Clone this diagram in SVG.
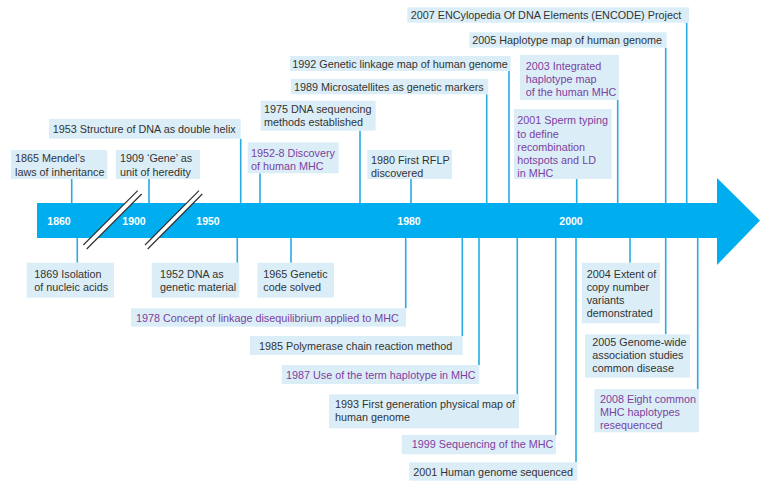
<svg xmlns="http://www.w3.org/2000/svg" width="760" height="483" viewBox="0 0 760 483">
<style>
.b{fill:#dbeef8}
.t{font-family:"Liberation Sans",Arial,sans-serif;font-size:10.8px;fill:#333}
.p{fill:#7b3f9e}
.c{stroke:#29abe2;stroke-width:1.6;fill:none}
.y{font-family:"Liberation Sans",Arial,sans-serif;font-size:10.5px;font-weight:bold;fill:#fff;text-anchor:middle}
</style>
<rect width="760" height="483" fill="#fff"/>
<g id="connectors" class="c">
<path d="M71.7 179V204M149 179V204M240.7 138.7V204M260 173.3V204M360 130.7V204M411 179V204M486.7 94.3V204M509 71V204M576.7 179V204M617.7 100V204M665.7 47.7V204M686.7 22.7V204"/>
<path d="M77.3 237V262.7M237.3 237V262.7M291 237V262.7M405.7 237V308.3M462.3 237V336M479 237V365M517.3 237V394.3M555.7 237V435M576 237V462.3M630 237V262.7M665.7 237V334.3M697.7 237V389"/>
</g>
<g id="timeline">
<path d="M37 203H717V178L760 220.5L717 265V238H37Z" fill="#00aeef"/>
<polygon points="83.3,245 137.7,190.7 141.7,194 86.7,249" fill="#fff"/>
<polygon points="145,245 199,190.7 202.3,194 147.7,249" fill="#fff"/>
<path d="M83.3 245L137.7 190.7M86.7 249L141.7 194M145 245L199 190.7M147.7 249L202.3 194" stroke="#333" stroke-width="1.2"/>
<text class="y" x="59" y="225">1860</text>
<text class="y" x="134" y="225">1900</text>
<text class="y" x="208" y="225">1950</text>
<text class="y" x="409" y="225">1980</text>
<text class="y" x="571" y="225">2000</text>
</g>
<g id="n1865"><rect class="b" x="11" y="150" width="96.3" height="29"/><text class="t" x="15" y="162.3">1865 Mendel’s</text><text class="t" x="15" y="175.7">laws of inheritance</text></g>
<g id="n1909"><rect class="b" x="115.7" y="150" width="84.3" height="29"/><text class="t" x="120" y="162.3">1909 ‘Gene’ as</text><text class="t" x="120" y="175.7">unit of heredity</text></g>
<g id="n1953"><rect class="b" x="49" y="119" width="191.7" height="19.7"/><text class="t" x="52.7" y="133.3">1953 Structure of DNA as double helix</text></g>
<g id="n1952-8"><rect class="b" x="247.7" y="142.3" width="91" height="31"/><text class="t p" x="251" y="157.3">1952-8 Discovery</text><text class="t p" x="251" y="169.7">of human MHC</text></g>
<g id="n1975"><rect class="b" x="260.7" y="100.7" width="115" height="30"/><text class="t" x="264" y="113.3">1975 DNA sequencing</text><text class="t" x="264" y="126.3">methods established</text></g>
<g id="n1980"><rect class="b" x="367.3" y="150" width="84.7" height="29"/><text class="t" x="371" y="164">1980 First RFLP</text><text class="t" x="371" y="176.7">discovered</text></g>
<g id="n1989"><rect class="b" x="291" y="79" width="197.3" height="15.3"/><text class="t" x="294" y="91.3">1989 Microsatellites as genetic markers</text></g>
<g id="n1992"><rect class="b" x="290" y="56" width="220.7" height="15"/><text class="t" x="292.3" y="68">1992 Genetic linkage map of human genome</text></g>
<g id="n2005-hapmap"><rect class="b" x="469.3" y="32.3" width="197.4" height="15.4"/><text class="t" x="472.3" y="44">2005 Haplotype map of human genome</text></g>
<g id="n2007"><rect class="b" x="407.3" y="7.3" width="281.7" height="15.4"/><text class="t" x="410.7" y="19">2007 ENCylopedia Of DNA Elements (ENCODE) Project</text></g>
<g id="n2003"><rect class="b" x="520" y="55" width="99" height="45"/><text class="t p" x="525.7" y="70">2003 Integrated</text><text class="t p" x="525.7" y="83.3">haplotype map</text><text class="t p" x="525.7" y="96.3">of the human MHC</text></g>
<g id="n2001-sperm"><rect class="b" x="514" y="109" width="97.7" height="70"/><text class="t p" x="517.3" y="124">2001 Sperm typing</text><text class="t p" x="517.3" y="138">to define</text><text class="t p" x="517.3" y="150.7">recombination</text><text class="t p" x="517.3" y="164">hotspots and LD</text><text class="t p" x="517.3" y="176.7">in MHC</text></g>
<g id="n1869"><rect class="b" x="26.7" y="262.7" width="87.3" height="35"/><text class="t" x="34.3" y="277.7">1869 Isolation</text><text class="t" x="34.3" y="290.7">of nucleic acids</text></g>
<g id="n1952"><rect class="b" x="151.7" y="262.7" width="87.6" height="35"/><text class="t" x="160" y="277.7">1952 DNA as</text><text class="t" x="160" y="290.7">genetic material</text></g>
<g id="n1965"><rect class="b" x="257.3" y="262.7" width="76.7" height="35"/><text class="t" x="263.3" y="277.7">1965 Genetic</text><text class="t" x="263.3" y="290.7">code solved</text></g>
<g id="n1978"><rect class="b" x="131" y="308.3" width="275" height="18.4"/><text class="t p" x="136" y="321.7">1978 Concept of linkage disequilibrium applied to MHC</text></g>
<g id="n1985"><rect class="b" x="250" y="336" width="212.7" height="19"/><text class="t" x="259" y="350">1985 Polymerase chain reaction method</text></g>
<g id="n1987"><rect class="b" x="281.7" y="365" width="197.6" height="19"/><text class="t p" x="286" y="379">1987 Use of the term haplotype in MHC</text></g>
<g id="n1993"><rect class="b" x="329" y="394.3" width="190" height="34"/><text class="t" x="335" y="408.3">1993 First generation physical map of</text><text class="t" x="335" y="421.3">human genome</text></g>
<g id="n1999"><rect class="b" x="401.7" y="435" width="154.3" height="19.3"/><text class="t p" x="411.7" y="448">1999 Sequencing of the MHC</text></g>
<g id="n2001-genome"><rect class="b" x="409.3" y="462.3" width="168" height="18.4"/><text class="t" x="413.3" y="476">2001 Human genome sequenced</text></g>
<g id="n2004"><rect class="b" x="581.7" y="262.7" width="78.3" height="60.6"/><text class="t" x="586.7" y="277.7">2004 Extent of</text><text class="t" x="586.7" y="291">copy number</text><text class="t" x="586.7" y="304">variants</text><text class="t" x="586.7" y="316.7">demonstrated</text></g>
<g id="n2005-gwas"><rect class="b" x="585" y="334.3" width="105" height="43.4"/><text class="t" x="592.3" y="346.3">2005 Genome-wide</text><text class="t" x="592.3" y="359.3">association studies</text><text class="t" x="592.3" y="372.3">common disease</text></g>
<g id="n2008"><rect class="b" x="594.3" y="389" width="104.7" height="43.3"/><text class="t p" x="600" y="403">2008 Eight common</text><text class="t p" x="600" y="415.7">MHC haplotypes</text><text class="t p" x="600" y="428.7">resequenced</text></g>
</svg>
